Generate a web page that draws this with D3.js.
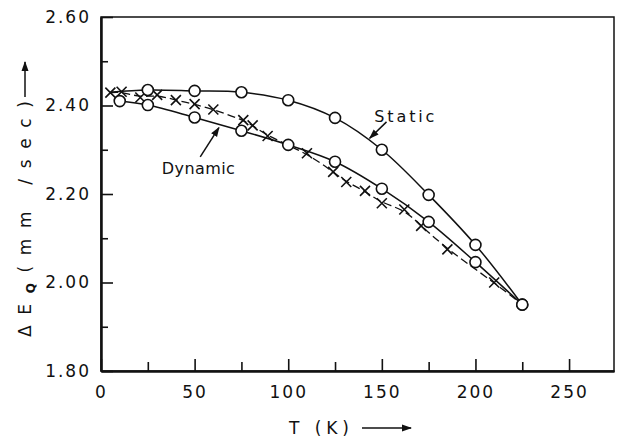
<!DOCTYPE html>
<html>
<head>
<meta charset="utf-8">
<script src="https://cdn.jsdelivr.net/npm/d3@7"></script>
<style>
  body { margin: 0; background: #fff; }
  svg text { font-family: "DejaVu Sans", sans-serif; fill: #111; }
</style>
</head>
<body>
<div id="chart"></div>
<script>
// Quadrupole splitting vs temperature: static and dynamic models plus measured points //
const width = 618;
const height = 437;
const margin = { top: 17, right: 4, bottom: 66, left: 101 };

// static model (circles), solid line
const staticT = [25, 50, 75, 100, 125, 150, 175, 200, 225];
const staticQ = [2.435, 2.433, 2.430, 2.412, 2.372, 2.300, 2.198, 2.085, 1.950];
const staticStart = [5, 2.43]; // solid line starts here, no marker

// dynamic model (circles), solid line
const dynamicT = [10, 25, 50, 75, 100, 125, 150, 175, 200, 225];
const dynamicQ = [2.410, 2.401, 2.373, 2.343, 2.311, 2.273, 2.212, 2.137, 2.046, 1.950];

// measured points (crosses), dashed line
const crossT = [5, 11, 21, 30, 40, 50, 60, 76, 81, 89, 110, 124, 131, 141, 150, 162, 171, 185, 210];
const crossQ = [2.429, 2.431, 2.418, 2.424, 2.412, 2.403, 2.391, 2.367, 2.355, 2.331, 2.292, 2.250, 2.227, 2.207, 2.179, 2.165, 2.128, 2.075, 2.000];

const xTicks = [0, 50, 100, 150, 200, 250];
const xMinor = [25, 75, 125, 175, 225];
const yTicks = [1.8, 2.0, 2.2, 2.4, 2.6];
const yMinor = [1.9, 2.1, 2.3, 2.5];

const svg = d3.select("#chart")
  .append("svg")
  .attr("width", width)
  .attr("height", height);

const x = d3.scaleLinear()
  .domain([0, 274])
  .range([margin.left, width - margin.right]);

const y = d3.scaleLinear()
  .domain([1.8, 2.6])
  .range([height - margin.bottom, margin.top]);

// frame
svg.append("rect")
  .attr("x", x(0))
  .attr("y", y(2.6))
  .attr("width", x(274) - x(0))
  .attr("height", y(1.8) - y(2.6))
  .attr("fill", "none")
  .attr("stroke", "#111")
  .attr("stroke-width", 1.5);

// axes, ticks pointing inward
svg.append("g")
  .attr("transform", `translate(0,${y(1.8)})`)
  .call(d3.axisBottom(x).tickValues(xTicks).tickSize(-12).tickSizeOuter(0).tickPadding(15).tickFormat(d3.format("d")));
svg.append("g")
  .attr("transform", `translate(0,${y(1.8)})`)
  .call(d3.axisBottom(x).tickValues(xMinor).tickSize(-9).tickSizeOuter(0).tickFormat(""));

svg.append("g")
  .attr("transform", `translate(${x(0)},0)`)
  .call(d3.axisLeft(y).tickValues(yTicks).tickSize(-12).tickSizeOuter(0).tickPadding(10).tickFormat(d3.format(".2f")));
svg.append("g")
  .attr("transform", `translate(${x(0)},0)`)
  .call(d3.axisLeft(y).tickValues(yMinor).tickSize(-7).tickSizeOuter(0).tickFormat(""));

svg.selectAll(".domain").attr("stroke", "#111").attr("stroke-width", 2);
svg.selectAll(".tick line").attr("stroke", "#111").attr("stroke-width", 1.6);
svg.selectAll(".tick text")
  .style("font-size", "17px")
  .style("letter-spacing", "2px")
  .attr("fill", "#111");

svg.append("defs").append("marker")
  .attr("id", "head")
  .attr("viewBox", "0 0 10 10")
  .attr("refX", 9)
  .attr("refY", 5)
  .attr("markerWidth", 10)
  .attr("markerHeight", 10)
  .attr("markerUnits", "userSpaceOnUse")
  .attr("orient", "auto")
  .append("path")
  .attr("d", "M0,1.5 L10,5 L0,8.5 Z")
  .attr("fill", "#111");

// x label with arrow
svg.append("text")
  .attr("x", 289)
  .attr("y", 434)
  .attr("textLength", 60)
  .attr("lengthAdjust", "spacing")
  .style("font-size", "17px")
  .text("T (K)");

svg.append("line")
  .attr("x1", 362)
  .attr("x2", 411)
  .attr("y1", 428)
  .attr("y2", 428)
  .attr("stroke", "#111")
  .attr("stroke-width", 1.5)
  .attr("marker-end", "url(#head)");

// y label, rotated, with arrow
const yLabG = svg.append("g").attr("transform", "translate(31,0) rotate(-90)");
const yLab = yLabG.append("text")
  .attr("x", -337)
  .attr("y", 0)
  .attr("textLength", 236)
  .attr("lengthAdjust", "spacing")
  .style("font-size", "17px");
yLab.append("tspan").text("ΔE");
yLab.append("tspan").attr("dy", 4).style("font-size", "12px").style("font-weight", "bold").text("Q");
yLab.append("tspan").attr("dy", -4).text("(mm  /sec)");
yLabG.append("line")
  .attr("x1", -97)
  .attr("x2", -62)
  .attr("y1", -6)
  .attr("y2", -6)
  .attr("stroke", "#111")
  .attr("stroke-width", 1.5)
  .attr("marker-end", "url(#head)");

// lines
const line = d3.line()
  .x(d => x(d[0]))
  .y(d => y(d[1]))
  .curve(d3.curveCatmullRom.alpha(0.5));

const staticPts = [staticStart].concat(staticT.map((t, i) => [t, staticQ[i]]));
const dynamicPts = dynamicT.map((t, i) => [t, dynamicQ[i]]);
const crossPts = crossT.map((t, i) => [t, crossQ[i]]);
const dashedPts = crossPts.concat([[dynamicT[dynamicT.length - 1], dynamicQ[dynamicQ.length - 1]]]);

svg.append("path")
  .datum(staticPts)
  .attr("d", line)
  .attr("fill", "none")
  .attr("stroke", "#111")
  .attr("stroke-width", 1.5);

svg.append("path")
  .datum(dynamicPts)
  .attr("d", line)
  .attr("fill", "none")
  .attr("stroke", "#111")
  .attr("stroke-width", 1.5);

svg.append("path")
  .datum(dashedPts)
  .attr("d", d3.line().x(d => x(d[0])).y(d => y(d[1])).curve(d3.curveBasis))
  .attr("fill", "none")
  .attr("stroke", "#111")
  .attr("stroke-width", 1.3)
  .attr("stroke-dasharray", "8,4");

// crosses
svg.selectAll(".cross")
  .data(crossPts)
  .enter()
  .append("path")
  .attr("class", "cross")
  .attr("transform", d => `translate(${x(d[0])},${y(d[1])})`)
  .attr("d", "M-5,-5 L5,5 M5,-5 L-5,5")
  .attr("stroke", "#111")
  .attr("stroke-width", 1.6)
  .attr("fill", "none");

// circles
svg.selectAll(".circ")
  .data(staticPts.slice(1).concat(dynamicPts))
  .enter()
  .append("circle")
  .attr("class", "circ")
  .attr("cx", d => x(d[0]))
  .attr("cy", d => y(d[1]))
  .attr("r", 5.5)
  .attr("fill", "#fff")
  .attr("stroke", "#111")
  .attr("stroke-width", 1.6);

// annotations
svg.append("text")
  .attr("x", x(146))
  .attr("y", y(2.362))
  .attr("textLength", 60)
  .attr("lengthAdjust", "spacing")
  .style("font-size", "16px")
  .text("Static");
svg.append("line")
  .attr("x1", x(152.5))
  .attr("y1", y(2.363))
  .attr("x2", x(143.5))
  .attr("y2", y(2.326))
  .attr("stroke", "#111")
  .attr("stroke-width", 1.5)
  .attr("marker-end", "url(#head)");

svg.append("text")
  .attr("x", x(32.5))
  .attr("y", y(2.245))
  .attr("textLength", 73)
  .attr("lengthAdjust", "spacing")
  .style("font-size", "16px")
  .text("Dynamic");
svg.append("line")
  .attr("x1", x(53))
  .attr("y1", y(2.284))
  .attr("x2", x(63))
  .attr("y2", y(2.350))
  .attr("stroke", "#111")
  .attr("stroke-width", 1.5)
  .attr("marker-end", "url(#head)");
</script>
</body>
</html>
